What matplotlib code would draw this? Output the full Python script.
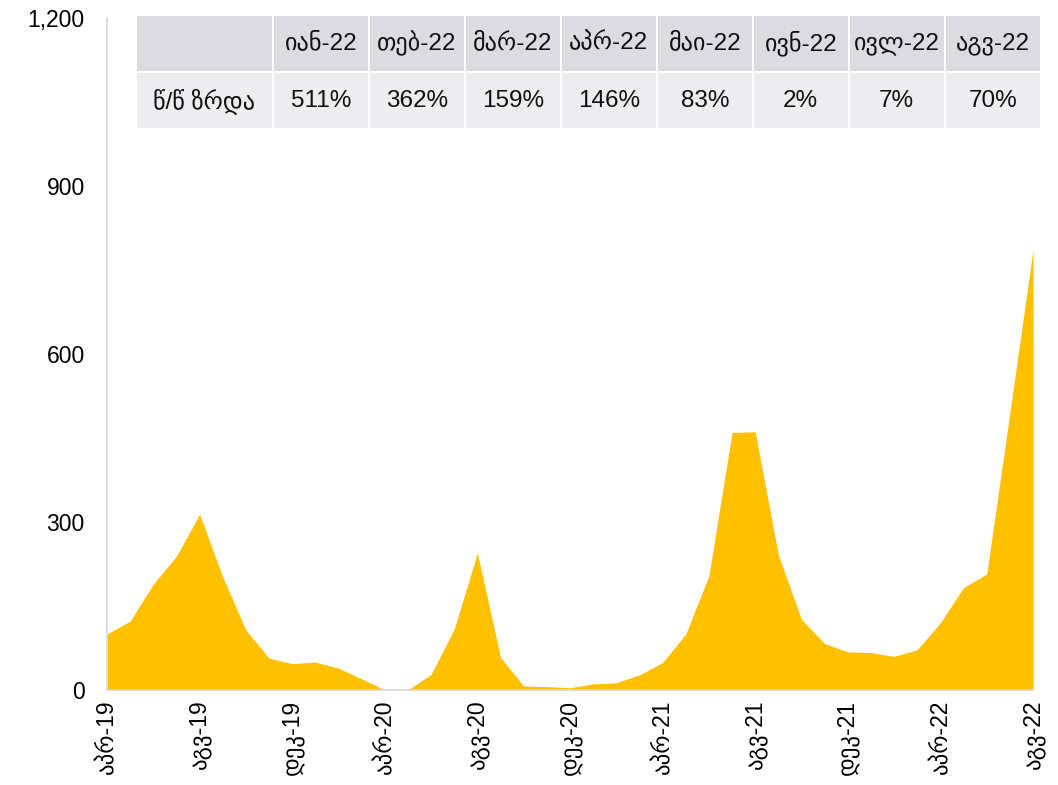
import matplotlib
matplotlib.use("Agg")
import matplotlib.pyplot as plt
from matplotlib.patches import Rectangle

plt.rcParams['font.family'] = ['Liberation Sans', 'DejaVu Sans']

# ---- data ----
month_abbr = ["იან", "თებ", "მარ", "აპრ", "მაი", "ივნ", "ივლ", "აგვ", "სექ", "ოქტ", "ნოე", "დეკ"]
periods = [(y, m) for y in range(2019, 2023) for m in range(12)
           if (y, m) >= (2019, 3) and (y, m) <= (2022, 7)]
period_labels = [f"{month_abbr[m]}-{str(y)[2:]}" for (y, m) in periods]

values = [100, 123, 189, 239, 314, 202, 107, 57, 47,
          50, 39, 20, 0, 0, 28, 109, 245, 58, 7, 6, 4,
          11, 13, 27, 49, 100, 204, 460, 461, 241, 126, 83, 68,
          67, 60, 72, 120, 183, 207, 495, 786]

table_header = ["იან-22", "თებ-22", "მარ-22", "აპრ-22", "მაი-22", "ივნ-22", "ივლ-22", "აგვ-22"]
table_row_label = "წ/წ ზრდა"
table_values = ["511%", "362%", "159%", "146%", "83%", "2%", "7%", "70%"]

yticks = [0, 300, 600, 900, 1200]
tick_step = 4

# ---- figure ----
W, H = 1058, 785
fig = plt.figure(figsize=(W / 100, H / 100), dpi=100)
ax = fig.add_axes([107 / W, 1 - 690 / H, (1033 - 107) / W, (690 - 18) / H])

x = list(range(len(values)))
ax.fill_between(x, values, 0, color="#FFC000", linewidth=0)
ax.set_xlim(0, len(values) - 1)
ax.set_ylim(0, 1200)
ax.set_yticks(yticks)
ax.set_yticklabels([f"{v:,}" for v in yticks])
ax.set_xticks(x[::tick_step])
ax.set_xticklabels(period_labels[::tick_step], rotation=90, ha="center", va="top")
ax.tick_params(axis="y", length=0, pad=16, labelsize=16.5)
ax.tick_params(axis="x", length=0, pad=7, labelsize=16.5)
for s in ["top", "right"]:
    ax.spines[s].set_visible(False)
for s in ["left", "bottom"]:
    ax.spines[s].set_color("#D9D9D9")
    ax.spines[s].set_linewidth(1.2)

# ---- table (pixel layout) ----
def fx(px):
    return px / W

def fy(py):
    return 1 - py / H

hdr_color = "#DCDBE1"
body_color = "#EDEDF0"
rows = [(16, 71), (73.3, 128.3)]
col_edges = [(136.7, 271.7)]
start, step, width = 274.0, 96.0, 93.5
for i in range(len(table_header)):
    col_edges.append((start + i * step, start + i * step + width))

for r, (y0, y1) in enumerate(rows):
    color = hdr_color if r == 0 else body_color
    for c, (x0, x1) in enumerate(col_edges):
        fig.add_artist(Rectangle((fx(x0), fy(y1)), fx(x1) - fx(x0), fy(y0) - fy(y1),
                                 transform=fig.transFigure, facecolor=color,
                                 edgecolor="none", zorder=1))
        if r == 0:
            txt = "" if c == 0 else table_header[c - 1]
        else:
            txt = table_row_label if c == 0 else table_values[c - 1]
        if txt:
            fig.text(fx((x0 + x1) / 2), fy((y0 + y1) / 2), txt, ha="center", va="center",
                     fontsize=17.5, color="#111111", zorder=2)

fig.savefig("out.png", dpi=100)
